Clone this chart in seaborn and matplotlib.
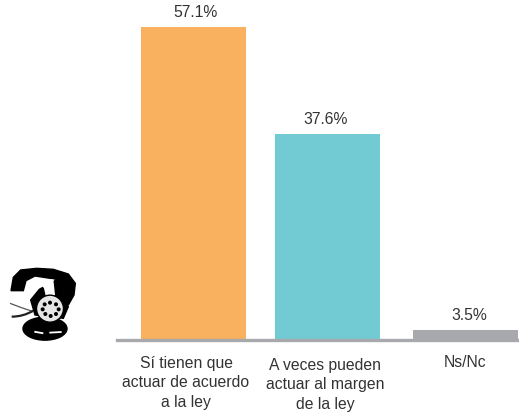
import matplotlib
matplotlib.use('Agg')
import matplotlib.pyplot as plt
from matplotlib.patches import Circle, Ellipse, PathPatch, Polygon
from matplotlib.path import Path
import pandas as pd
import seaborn as sns

categories = ['Sí tienen que\nactuar de acuerdo\na la ley',
              'A veces pueden\nactuar al margen\nde la ley',
              'Ns/Nc']
value_labels = ['57.1%', '37.6%', '3.5%']
# the third bar is drawn shorter in the picture than 3.5 would give
bar_heights = [57.1, 37.6, 1.75]
colors = ['#f9b05f', '#72cbd3', '#a7a9ac']
# gaps between the bars are not equal in the original
bar_slots = [0, 134, 272]

W, H = 519, 415
sns.set_theme(style='white')
plt.rcParams['font.family'] = ['Liberation Sans', 'DejaVu Sans']

df = pd.DataFrame({'slot': bar_slots, 'valor': bar_heights, 'categoria': categories})

fig = plt.figure(figsize=(W / 100, H / 100), dpi=100)
ax = fig.add_axes([117 / W, (H - 339.5) / H, (W - 117) / W, 312.5 / H])
sns.barplot(data=df, x='slot', y='valor', hue='categoria', palette=colors,
            legend=False, width=105 / 134, saturation=1, native_scale=True,
            dodge=False, linewidth=0, ax=ax)
ax.set_xlim(-76.5, 325.5)
ax.set_ylim(0, 57.1)
ax.set_xlabel('')
ax.set_ylabel('')
ax.set_yticks([])
ax.set_xticks([])
sns.despine(ax=ax, left=True)
ax.spines['bottom'].set_color('#a7a9ac')
ax.spines['bottom'].set_linewidth(2.4)

# value labels, sitting just above each bar
label_nudges = [2, -2, 3.5]
for x, h, lab, dx in zip(bar_slots, bar_heights, value_labels, label_nudges):
    ax.annotate(lab, (x, h), xytext=(dx * 0.72, 4.7), textcoords='offset points',
                ha='center', va='bottom', fontsize=11.3, color='#333333',
                annotation_clip=False)

# category labels do not line up in the original, so nudge them one by one
nudges = [(-7.5, 16), (-2.5, 18), (0, 15)]
for x, lab, (dx, dy) in zip(bar_slots, categories, nudges):
    ax.annotate(lab, (x, 0), xytext=(dx * 0.72, -dy * 0.72), textcoords='offset points',
                ha='center', va='top', fontsize=11.3, color='#333333',
                linespacing=1.38, annotation_clip=False)

# telephone icon, overlay in pixel units
icon = fig.add_axes([0, 0, 1, 1], zorder=5)
icon.set_xlim(0, W)
icon.set_ylim(H, 0)
icon.axis('off')


def px(x, y):
    # coordinates measured on the 3x zoom crop
    return x / 3, 250 + y / 3


handset = [px(33, 122), px(40, 82), px(62, 60), px(110, 55), px(160, 58),
           px(205, 72), px(226, 100), px(222, 135), px(205, 165), px(190, 125),
           px(170, 88), px(105, 78), px(78, 92), px(70, 122)]
icon.add_patch(Polygon(handset, closed=True, fc='black', ec='black', lw=1))
neck = [px(118, 118), px(172, 88), px(205, 170), px(190, 205), px(105, 195), px(92, 150)]
icon.add_patch(Polygon(neck, closed=True, fc='black', ec='black', lw=1))
shine = [px(112, 88), px(160, 88), px(165, 135), px(140, 150), px(132, 115)]
icon.add_patch(Polygon(shine, closed=True, fc='white', ec='none'))
icon.add_patch(Ellipse(px(135, 236), 44, 23, fc='black', ec='black'))
icon.add_patch(Circle(px(150, 176), 13.5, fc='#e6e6e6', ec='black', lw=1))
for dot in [(150, 158), (168, 163), (176, 178), (168, 192), (152, 198),
            (136, 192), (128, 178), (134, 163)]:
    icon.add_patch(Circle(px(*dot), 2, fc='black', ec='none'))
for seg in [(103, 245, 130, 250), (148, 248, 185, 246)]:
    p = Path([px(seg[0], seg[1]), px(seg[2], seg[3])])
    icon.add_patch(PathPatch(p, ec='white', lw=1.3, fill=False))
cord = Path([px(30, 160), px(60, 172), px(100, 185)], [Path.MOVETO, Path.CURVE3, Path.CURVE3])
icon.add_patch(PathPatch(cord, ec='#555555', lw=0.9, fill=False))
cord2 = Path([px(35, 200), px(70, 200), px(100, 182)], [Path.MOVETO, Path.CURVE3, Path.CURVE3])
icon.add_patch(PathPatch(cord2, ec='#222222', lw=1.6, fill=False))

fig.savefig('out.png', dpi=100, facecolor='white')
